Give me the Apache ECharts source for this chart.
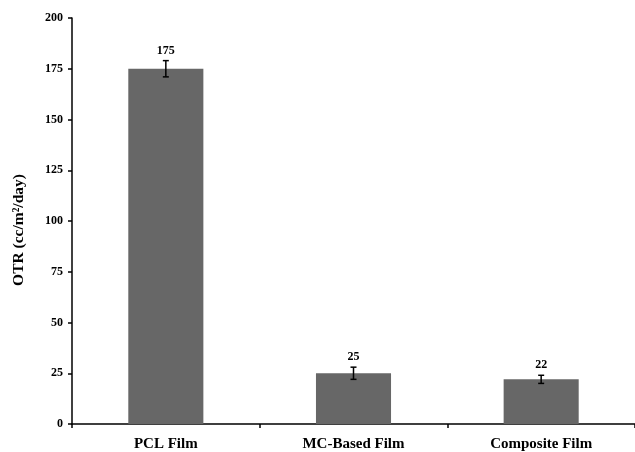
<!DOCTYPE html>
<html>
<head>
<meta charset="utf-8">
<script src="https://cdn.jsdelivr.net/npm/echarts@6/dist/echarts.min.js"></script>
<style>
  html, body { margin: 0; padding: 0; background: #ffffff; }
  #chart { width: 635px; height: 452px; }
</style>
</head>
<body>
<div id="chart"></div>
<script>
// Oxygen transmission rate of the three films, mean ± error
var categories = ['PCL Film', 'MC-Based Film', 'Composite Film'];
var otrValues = [175, 25, 22];
var otrErrors = [4, 3, 2];
var yTicks = { min: 0, max: 200, step: 25 };

var FONT = '"Liberation Serif", "Times New Roman", serif';
var chart = echarts.init(document.getElementById('chart'));

var errorData = categories.map(function (c, i) {
  return [i, otrValues[i], otrErrors[i]];
});

chart.setOption({
  animation: false,
  backgroundColor: '#ffffff',
  grid: { left: 72, top: 18, bottom: 28, width: 567 },
  xAxis: {
    type: 'category',
    data: categories,
    axisLine: { lineStyle: { color: '#000', width: 1.5 } },
    axisTick: { show: true, length: 4, inside: false, lineStyle: { color: '#000', width: 1.5 } },
    axisLabel: { color: '#000', fontFamily: FONT, fontWeight: 'bold', fontSize: 15, margin: 13 }
  },
  yAxis: {
    type: 'value',
    min: yTicks.min,
    max: yTicks.max,
    interval: yTicks.step,
    name: 'OTR (cc/m²/day)',
    nameLocation: 'middle',
    nameGap: 45,
    nameTextStyle: {
      color: '#000', fontFamily: FONT, fontWeight: 'bold', fontSize: 15.5,
      padding: [0, 18, 0, 0]
    },
    splitLine: { show: false },
    axisLine: { show: true, lineStyle: { color: '#000', width: 1.5 } },
    axisTick: { show: true, length: 4, lineStyle: { color: '#000', width: 1.5 } },
    axisLabel: { color: '#000', fontFamily: FONT, fontWeight: 'bold', fontSize: 12, margin: 9 }
  },
  series: [
    {
      type: 'bar',
      data: otrValues,
      barWidth: '40%',
      itemStyle: { color: '#676767' }
    },
    {
      type: 'custom',
      data: errorData,
      z: 5,
      renderItem: function (params, api) {
        var x = api.value(0);
        var v = api.value(1);
        var e = api.value(2);
        var hi = api.coord([x, v + e]);
        var lo = api.coord([x, v - e]);
        var cap = 3;
        var style = { stroke: '#000', lineWidth: 1.5 };
        return {
          type: 'group',
          children: [
            { type: 'line', shape: { x1: hi[0], y1: hi[1], x2: lo[0], y2: lo[1] }, style: style },
            { type: 'line', shape: { x1: hi[0] - cap, y1: hi[1], x2: hi[0] + cap, y2: hi[1] }, style: style },
            { type: 'line', shape: { x1: lo[0] - cap, y1: lo[1], x2: lo[0] + cap, y2: lo[1] }, style: style },
            {
              type: 'text',
              x: hi[0],
              y: hi[1] - 4,
              style: {
                text: String(v),
                fill: '#000',
                font: 'bold 12px ' + FONT,
                align: 'center',
                verticalAlign: 'bottom'
              }
            }
          ]
        };
      }
    }
  ]
});
</script>
</body>
</html>
